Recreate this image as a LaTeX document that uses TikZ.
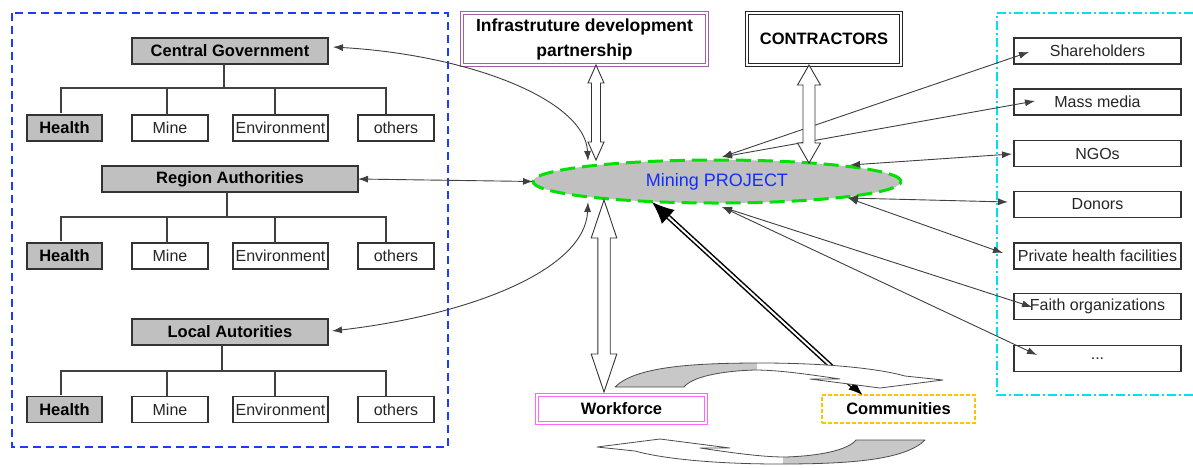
\documentclass[tikz,border=0pt]{standalone}
\usepackage{fontspec}
\setmainfont{Liberation Sans}
\usetikzlibrary{arrows.meta,shapes.geometric,calc}

\definecolor{frameblue}{RGB}{25,60,255}
\definecolor{framecyan}{RGB}{0,225,240}
\definecolor{boxgray}{RGB}{192,192,192}
\definecolor{swirlgray}{RGB}{200,200,200}
\definecolor{infrapurple}{RGB}{165,95,165}
\definecolor{wfpink}{RGB}{255,100,255}
\definecolor{commgold}{RGB}{255,195,0}
\definecolor{ellgreen}{RGB}{0,225,0}
\definecolor{projblue}{RGB}{20,45,255}

% one row of departments under an authority
\newcommand{\unitrow}[2]{%
  \node[healthbox] (#1h) at (64.5,#2) {Health};
  \node[unitbox, minimum width=76pt] (#1m) at (170,#2) {Mine};
  \node[unitbox, minimum width=95pt] (#1e) at (280.5,#2) {Environment};
  \node[unitbox, minimum width=76pt] (#1o) at (396,#2) {others};}

% trunk, bus and drops linking an authority to its departments
\newcommand{\unittree}[3]{%
  \coordinate (#1bus) at (#2,#3);
  \draw[tree] (#1.south -| #1bus) -- (#1bus);
  \draw[tree] ($(#1h.north)+(-3.5,-2)$) |- (#1bus);
  \draw[tree] ($(#1m.north)+(-3,0)$) |- (#1bus);
  \draw[tree] ($(#1e.north)+(-5.5,0)$) |- (#1bus);
  \draw[tree] ($(#1o.north)+(-10,0)$) |- (#1bus);}

% hollow vertical block arrow with a head at both ends
% #1 top tip, #2 bottom tip, #3 half shaft, #4 half head, #5 head length
\newcommand{\vblock}[5]{%
  \draw[blockarrow] let \p1=(#1), \p2=(#2) in
    (\x1-#3pt,\y1-#5pt) -- (\x1-#4pt,\y1-#5pt) -- (\x1,\y1) -- (\x1+#4pt,\y1-#5pt) -- (\x1+#3pt,\y1-#5pt)
    -- (\x1+#3pt,\y2+#5pt) -- (\x1+#4pt,\y2+#5pt) -- (\x1,\y2) -- (\x1-#4pt,\y2+#5pt) -- (\x1-#3pt,\y2+#5pt) -- cycle;}

% curved ribbon arrow between workforce and communities
\newcommand{\swirlpath}{(615,387) .. controls (635,367) and (690,363) .. (760,363)
  .. controls (830,363) and (880,369) .. (905,376) -- (943,380) -- (880,388) -- (810,379) -- (840,379)
  .. controls (800,373) and (775,370) .. (755,370) .. controls (720,371) and (692,377) .. (684,387) -- cycle}
\newcommand{\swirl}{%
  \fill[white] \swirlpath;
  \begin{scope}\clip \swirlpath; \fill[swirlgray] (600,350) rectangle (757,395);\end{scope}
  \draw[draw=black!70,line width=0.8pt,line join=round] \swirlpath;}

\begin{document}
\begin{tikzpicture}[x=1pt,y=-1pt,
  every node/.style={inner sep=0pt,outer sep=0pt},
  govbox/.style={draw=black!80,line width=1.3pt,fill=boxgray,minimum height=26pt,font=\bfseries\fontsize{16.5}{19}\selectfont},
  unitbox/.style={draw=black!80,line width=1.3pt,fill=white,minimum height=26pt,text=black!85,font=\fontsize{16}{19}\selectfont},
  healthbox/.style={unitbox,fill=boxgray,text=black,minimum width=75pt,font=\bfseries\fontsize{16.5}{19}\selectfont},
  stakebox/.style={unitbox,minimum width=167pt},
  tree/.style={draw=black!75,line width=1.2pt},
  link/.style={draw=black!75,line width=0.9pt,{Latex[length=10pt,width=7pt]}-{Latex[length=10pt,width=7pt]}},
  blockarrow/.style={draw=black!80,line width=0.9pt,fill=white,line join=miter},
  boldtext/.style={font=\bfseries\fontsize{16.5}{19}\selectfont}]

\useasboundingbox (0,0) rectangle (1193,467);
\fill[white] (0,0) rectangle (1193,467);

% frames
\draw[frameblue,line width=2pt,dash pattern=on 8pt off 5pt] (12,13) rectangle (448,447);
\draw[framecyan,line width=2pt,dash pattern=on 9pt off 3pt on 2pt off 3pt] (1193,13) -- (997,13) -- (997,395) -- (1193,395);

% authorities
\node[govbox,minimum width=196pt] (cg) at (230,51) {Central Government};
\node[govbox,minimum width=256pt] (ra) at (230,179) {Region Authorities};
\node[govbox,minimum width=196pt] (la) at (230,332) {Local Autorities};
\unitrow{cg}{128}
\unitrow{ra}{256}
\unitrow{la}{409.5}
\unittree{cg}{224}{88}
\unittree{ra}{227}{217}
\unittree{la}{222}{371}

% project
\node[ellipse,draw=ellgreen,line width=3pt,dash pattern=on 15pt off 7pt,fill=boxgray,
      minimum width=368pt,minimum height=43pt,text=projblue,font=\fontsize{18}{21}\selectfont]
      (mining) at (717,181.5) {Mining PROJECT};
\coordinate (mNW) at (588,161);
\coordinate (mSW) at (588,202);
\coordinate (mN) at (722,157);
\coordinate (mNE) at (850,165);
\coordinate (mSE) at (848,198);
\coordinate (mS) at (722,207);
\coordinate (mI) at (596,160);
\coordinate (mC) at (809,163);
\coordinate (mWF) at (604,200);
\coordinate (mP) at (652,202);

% partners
\node[draw=infrapurple,double=white,double distance=1.6pt,line width=0.9pt,minimum width=245pt,minimum height=52pt,
      align=center,font=\bfseries\fontsize{17.5}{25}\selectfont] (infra) at (584.5,39) {Infrastruture development\\partnership};
\node[draw=black!85,double=white,double distance=1.6pt,line width=0.9pt,minimum width=154pt,minimum height=52pt,boldtext]
      (con) at (824,39) {CONTRACTORS};

% workforce and communities
\node[draw=wfpink,double=white,double distance=1.5pt,line width=1pt,fill=white,minimum width=169pt,minimum height=28pt,boldtext]
      (wf) at (621.5,409) {Workforce};
\node[draw=commgold,line width=1.8pt,dash pattern=on 4pt off 2pt,fill=white,minimum width=153pt,minimum height=28pt,boldtext]
      (com) at (898.5,409) {Communities};

% stakeholders
\node[stakebox] (sh) at (1097.5,51) {Shareholders};
\node[stakebox] (mm) at (1097.5,102) {Mass media};
\node[stakebox] (ngo) at (1097.5,153.5) {NGOs};
\node[stakebox] (don) at (1097.5,204.5) {Donors};
\node[stakebox] (ph) at (1097.5,256) {Private health facilities};
\node[stakebox] (fo) at (1097.5,306.5) {Faith organizations};
\node[stakebox] (etc) at (1097.5,358.5) {...};

% links to government
\draw[link] ($(cg.east)+(5,-4)$) .. controls (470,55) and (585,100) .. (mNW);
\draw[link] (ra.east) -- (mining.west);
\draw[link] ($(la.east)+(4,-1)$) .. controls (470,315) and (585,270) .. (mSW);

% links to stakeholders
\draw[link] (mN) -- ($(sh.west)+(15,1)$);
\draw[link] (mN) -- ($(mm.west)+(21,-1)$);
\draw[link] (mNE) -- ($(ngo.west)+(-2,0.5)$);
\draw[link] (mSE) -- ($(don.west)+(-6,-2.5)$);
\draw[link] (mSE) -- ($(ph.west)+(-11,-3)$);
\draw[link] (mS) -- ($(fo.west)+(18,0.5)$);
\draw[link] (mS) -- ($(etc.west)+(23,-3.5)$);

% block arrows
\vblock{$(infra.south)+(11.5,0)$}{mI}{4.5}{8}{18}
\vblock{$(con.south)+(-15,0)$}{mC}{6}{11.5}{20}
\vblock{mWF}{$(wf.north)+(0,-3)$}{6.2}{12.8}{38}

% communities to project
\draw[black,line width=1.5pt,double=white,double distance=2pt,
      {Latex[length=14pt,width=11pt]}-{Latex[length=22pt,width=19pt]}]
      ($(com.north)+(-36,0)$) -- (mP);

% ribbon arrows
\swirl
\begin{scope}[rotate around={180:(770,413.5)}]
\swirl
\end{scope}
\end{tikzpicture}
\end{document}
